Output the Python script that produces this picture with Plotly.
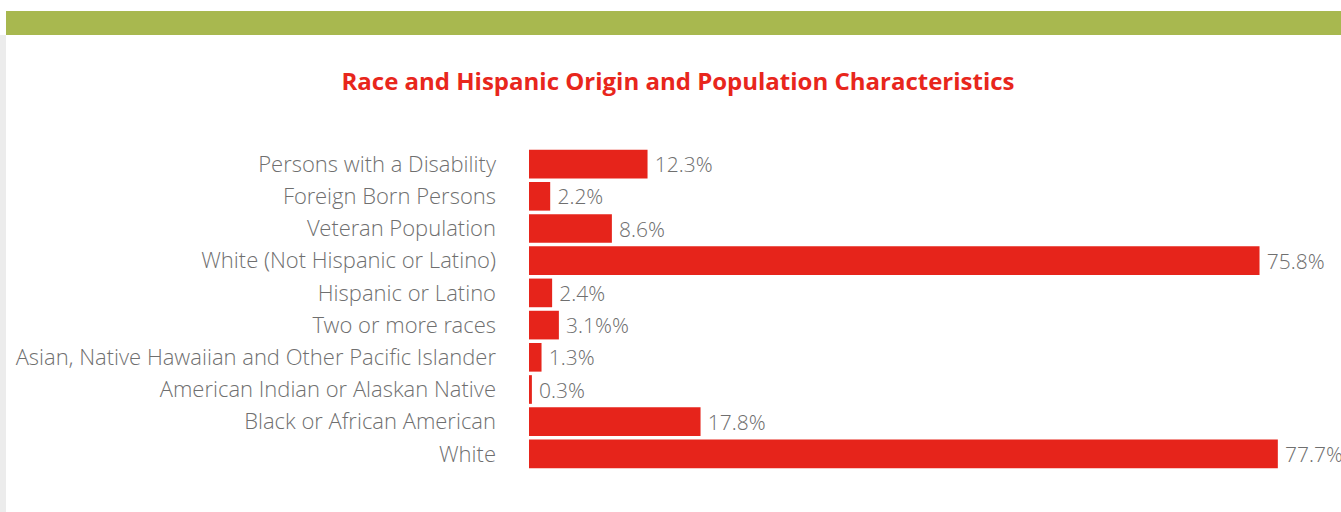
import plotly.graph_objects as go

# categories listed bottom -> top as plotly draws them
categories = [
    "White",
    "Black or African American",
    "American Indian or Alaskan Native",
    "Asian, Native Hawaiian and Other Pacific Islander",
    "Two or more races",
    "Hispanic or Latino",
    "White (Not Hispanic or Latino)",
    "Veteran Population",
    "Foreign Born Persons",
    "Persons with a Disability",
]
values = [77.7, 17.8, 0.3, 1.3, 3.1, 2.4, 75.8, 8.6, 2.2, 12.3]
labels = ["77.7%", "17.8%", "0.3%", "1.3%", "3.1%%", "2.4%", "75.8%", "8.6%", "2.2%", "12.3%"]

W, H = 1341, 512
L, R, T, B = 529, 41, 148, 42
red = "#E6241B"
grey_txt = "#6f6f6f"
font_fam = "Open Sans Light, Open Sans"


def px_x(x):
    return (x - L) / (W - L - R)


def px_y(y):
    return (H - B - y) / (H - T - B)


fig = go.Figure()
fig.add_trace(go.Bar(
    y=categories, x=values, orientation="h",
    marker=dict(color=red, line=dict(width=0)),
    text=["\u2009" + t for t in labels], textposition="outside",
    textfont=dict(family=font_fam, size=21, color=grey_txt, weight=300),
    cliponaxis=False, hoverinfo="skip",
))

fig.update_layout(
    width=W, height=H,
    paper_bgcolor="white", plot_bgcolor="white",
    margin=dict(l=L, r=R, t=T, b=B),
    bargap=0.11,
    showlegend=False,
    title=dict(
        text="Race and Hispanic Origin and Population Characteristics",
        x=678 / W, xanchor="center", y=1 - 82 / H, yanchor="middle",
        font=dict(family="Open Sans", size=24, color="#E8261C", weight=700),
    ),
    shapes=[
        # green band across the top
        dict(type="rect", xref="paper", yref="paper", layer="below",
             x0=px_x(6), x1=px_x(W + 5), y0=px_y(35), y1=px_y(11),
             fillcolor="#A8B84F", line=dict(width=0)),
        # grey strip on the left edge
        dict(type="rect", xref="paper", yref="paper", layer="below",
             x0=px_x(-1), x1=px_x(6), y0=px_y(H + 1), y1=px_y(35),
             fillcolor="#ececec", line=dict(width=0)),
    ],
)
fig.update_xaxes(range=[0, 80], visible=False, fixedrange=True)
fig.update_yaxes(
    showgrid=False, zeroline=False, showline=False, ticks="",
    ticklabelstandoff=32,
    tickfont=dict(family=font_fam, size=22, color=grey_txt, weight=300),
    fixedrange=True,
)

fig.write_html("out.html", config={"displayModeBar": False},
               post_script="document.body.style.margin='0';document.body.style.overflow='hidden';")
